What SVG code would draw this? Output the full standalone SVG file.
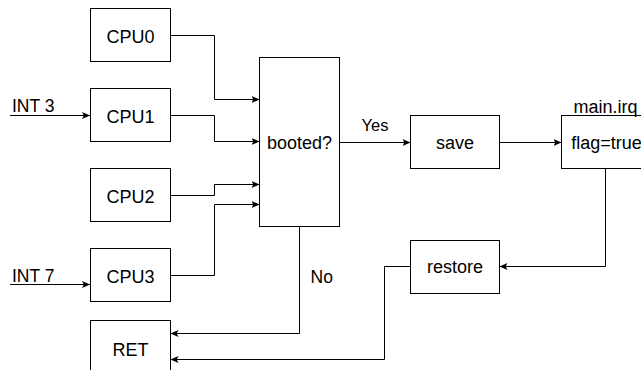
<svg xmlns="http://www.w3.org/2000/svg" width="641" height="370" viewBox="0 0 641 370">
<style>
.box{fill:#fff;stroke:#000;stroke-width:1}
.t{font-family:"Liberation Sans",Arial,sans-serif;font-size:18px;fill:#000;text-anchor:middle}
.l{font-family:"Liberation Sans",Arial,sans-serif;fill:#000}
.c{fill:none;stroke:#000;stroke-width:1}
</style>
<defs>
<marker id="a" viewBox="0 0 8 8" refX="8" refY="4" markerWidth="8" markerHeight="8" markerUnits="userSpaceOnUse" orient="auto">
<path d="M0,0.5 L8,4 L0,7.5 L1.8,4 z" fill="#000"/>
</marker>
</defs>
<g id="connectors">
<path class="c" d="M10,115.5 H90" marker-end="url(#a)"/>
<path class="c" d="M10,284.5 H90" marker-end="url(#a)"/>
<path class="c" d="M170.5,35.5 H214.5 V99.5 H259.5" marker-end="url(#a)"/>
<path class="c" d="M170.5,115.5 H214.5 V141.5 H259.5" marker-end="url(#a)"/>
<path class="c" d="M170.5,195.5 H214.5 V184.5 H259.5" marker-end="url(#a)"/>
<path class="c" d="M170.5,275.5 H214.5 V204.5 H259.5" marker-end="url(#a)"/>
<path class="c" d="M339.5,142.5 H410.5" marker-end="url(#a)"/>
<path class="c" d="M499.5,142.5 H561.5" marker-end="url(#a)"/>
<path class="c" d="M605.5,168.5 V266.5 H499.5" marker-end="url(#a)"/>
<path class="c" d="M410.5,266.5 H384.5 V359.5 H170.5" marker-end="url(#a)"/>
<path class="c" d="M299.5,226.5 V333.5 H170.5" marker-end="url(#a)"/>
<text class="l" x="12" y="112" font-size="17.5">INT 3</text>
<text class="l" x="12" y="281.5" font-size="17.5">INT 7</text>
<text class="l" x="361.5" y="130.5" font-size="16.5">Yes</text>
<text class="l" x="310.5" y="282.5" font-size="17.5">No</text>
</g>
<g id="cpu0"><rect class="box" x="90.5" y="8.5" width="80" height="53"/><text class="t" x="130.5" y="43" font-size="19">CPU0</text></g>
<g id="cpu1"><rect class="box" x="90.5" y="88.5" width="80" height="53"/><text class="t" x="130.5" y="123" font-size="19">CPU1</text></g>
<g id="cpu2"><rect class="box" x="90.5" y="168.5" width="80" height="53"/><text class="t" x="130.5" y="203" font-size="19">CPU2</text></g>
<g id="cpu3"><rect class="box" x="90.5" y="248.5" width="80" height="53"/><text class="t" x="130.5" y="283" font-size="19">CPU3</text></g>
<g id="ret"><rect class="box" x="90.5" y="320.5" width="80" height="60"/><text class="t" x="130.5" y="355.5" font-size="18.5">RET</text></g>
<g id="booted"><rect class="box" x="259.5" y="57.5" width="80" height="169"/><text class="t" x="299.5" y="149" font-size="19">booted?</text></g>
<g id="save"><rect class="box" x="410.5" y="115.5" width="89" height="53"/><text class="t" x="455" y="148.5">save</text></g>
<g id="flag"><rect class="box" x="561.5" y="115.5" width="90" height="53"/><text class="t" x="606.5" y="148.5">flag=true</text><text class="t" x="605.5" y="112.5" font-size="17.5">main.irq</text></g>
<g id="restore"><rect class="box" x="410.5" y="240.5" width="89" height="53"/><text class="t" x="455" y="273">restore</text></g>
</svg>
